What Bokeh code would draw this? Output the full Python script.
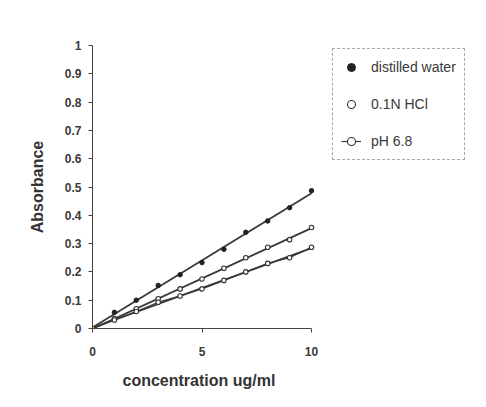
import numpy as np
from bokeh.plotting import figure
from bokeh.models import Range1d, FixedTicker, Legend, LegendItem, Title
from bokeh.embed import file_html
from bokeh.resources import INLINE

conc = [0, 1, 2, 3, 4, 5, 6, 7, 8, 9, 10]
distilled_water = [0, 0.057, 0.10, 0.152, 0.19, 0.233, 0.28, 0.340, 0.38, 0.427, 0.487]
hcl_01n = [0, 0.035, 0.07, 0.105, 0.14, 0.175, 0.213, 0.25, 0.287, 0.314, 0.357]
ph_68 = [0, 0.03, 0.06, 0.093, 0.115, 0.14, 0.17, 0.20, 0.23, 0.25, 0.287]
y_ticks = [0, 0.1, 0.2, 0.3, 0.4, 0.5, 0.6, 0.7, 0.8, 0.9, 1]
y_tick_labels = ["0", "0.1", "0.2", "0.3", "0.4", "0.5", "0.6", "0.7", "0.8", "0.9", "1"]
x_ticks = [0, 5, 10]
series_names = ["distilled water", "0.1N HCl", "pH 6.8"]
x_title = "concentration ug/ml"
y_title = "Absorbance"

FONT = "Liberation Sans"

# frame extends right to hold the legend; the x axis itself is bounded to 0..10
p = figure(width=486, height=407, output_backend="svg", toolbar_location=None,
           x_range=Range1d(0, 17.99), y_range=Range1d(0, 1),
           min_border_left=92, min_border_right=0, min_border_top=45, min_border_bottom=79)
p.xgrid.visible = False
p.ygrid.visible = False
p.outline_line_color = None
p.background_fill_color = "white"
p.border_fill_color = "white"

for ax in (p.xaxis[0], p.yaxis[0]):
    ax.axis_line_color = "#444"
    ax.axis_line_width = 1
    ax.major_tick_line_color = "#444"
    ax.major_tick_in = 0
    ax.major_tick_out = 4
    ax.minor_tick_line_color = None
    ax.major_label_text_font = FONT
    ax.major_label_text_font_size = "12px"
    ax.major_label_text_font_style = "bold"
    ax.major_label_text_color = "#3a3a3a"
    ax.axis_label_text_font = FONT
    ax.axis_label_text_font_size = "16px"
    ax.axis_label_text_font_style = "bold"
    ax.axis_label_text_color = "#333"

p.yaxis[0].ticker = FixedTicker(ticks=y_ticks)
p.yaxis[0].major_label_overrides = {t: l for t, l in zip(y_ticks, y_tick_labels)}
p.yaxis[0].axis_label = y_title
p.yaxis[0].axis_label_standoff = 16
p.yaxis[0].major_label_standoff = 7
p.xaxis[0].ticker = FixedTicker(ticks=x_ticks)
p.xaxis[0].bounds = (x_ticks[0], x_ticks[-1])
p.xaxis[0].major_label_standoff = 14

# x-axis title centred under the 0..10 axis
t = Title(text=x_title, align="left", offset=30, standoff=23,
          text_font=FONT, text_font_size="16px", text_font_style="bold",
          text_color="#333")
p.add_layout(t, "below")

# linear trend lines (least squares, as in the spreadsheet chart)
x_arr = np.array(conc, dtype=float)
xl = np.array([conc[0], conc[-1]], dtype=float)
lw = 1.8
for ys in (distilled_water, hcl_01n, ph_68):
    k, b = np.polyfit(x_arr, np.array(ys), 1)
    p.line(xl, k * xl + b, line_color="#3a3a3a", line_width=lw)

l3 = p.line(conc, ph_68, line_color="#3a3a3a", line_width=1.2)
m1 = p.scatter(conc, distilled_water, marker="circle", size=4.5, fill_color="#222", line_color="#222")
m2 = p.scatter(conc, hcl_01n, marker="circle", size=4.5, fill_color="white", line_color="#333", line_width=1.1)
m3 = p.scatter(conc, ph_68, marker="circle", size=4.5, fill_color="white", line_color="#333", line_width=1.1)

legend = Legend(items=[
    LegendItem(label=series_names[0], renderers=[m1]),
    LegendItem(label=series_names[1], renderers=[m2]),
    LegendItem(label=series_names[2], renderers=[l3, m3]),
], location=(240, 168))
legend.label_text_font = FONT
legend.label_text_font_size = "14px"
legend.label_text_color = "#3a3a3a"
legend.border_line_color = "#555"
legend.border_line_dash = "4 2"
legend.border_line_width = 1
legend.background_fill_alpha = 0
legend.spacing = 17
legend.padding = 8
legend.glyph_width = 20
legend.label_standoff = 10
legend.margin = 0
p.add_layout(legend, "center")

open("out.html", "w").write(file_html(p, INLINE))
